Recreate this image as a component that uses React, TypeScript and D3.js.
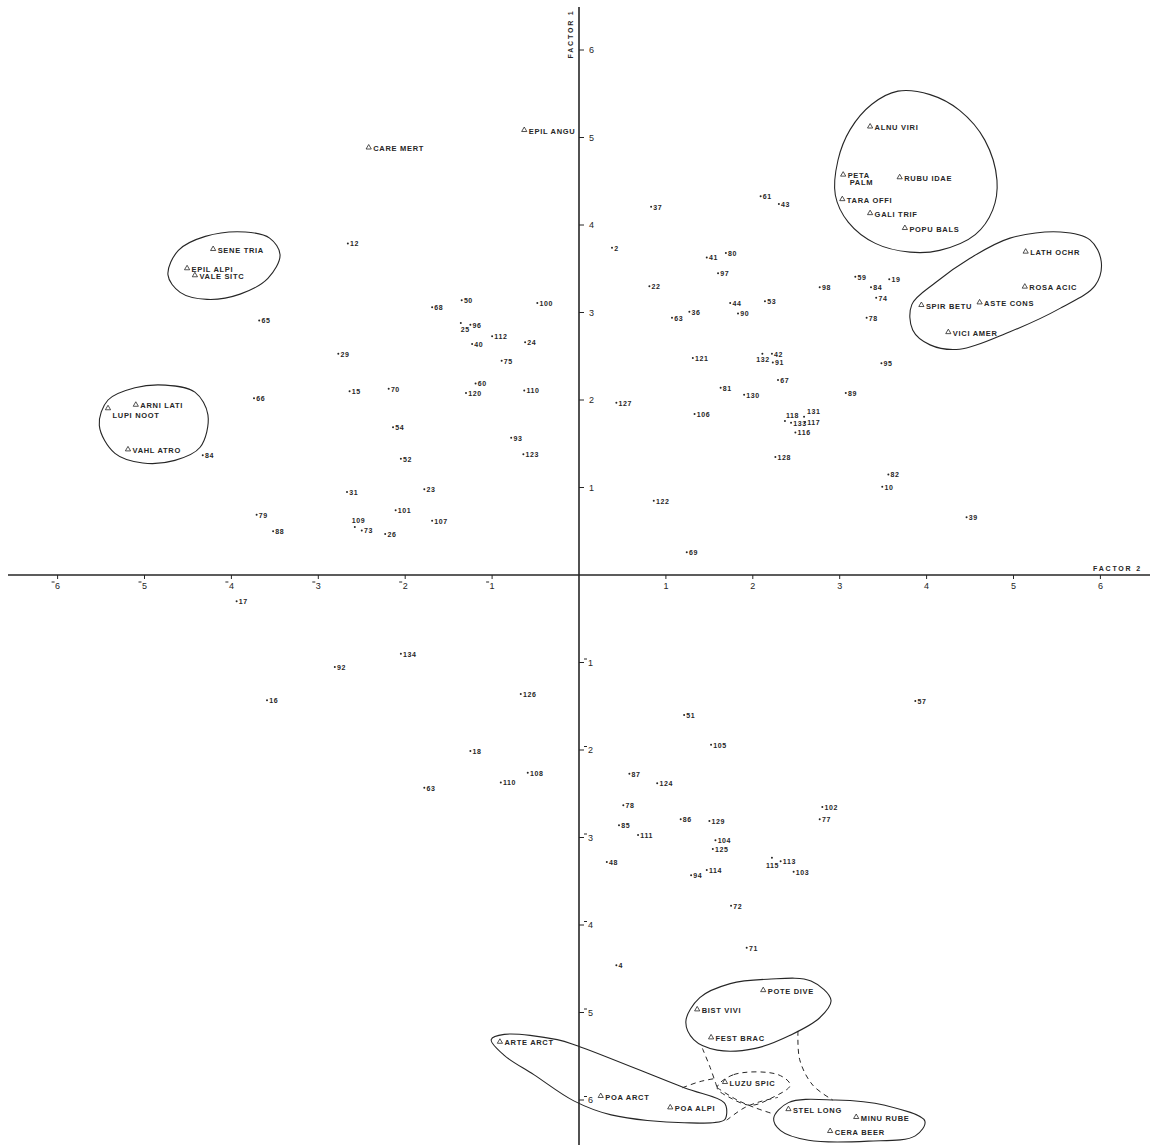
import React from 'react';
import * as d3 from 'd3';

// ---------- DATA ----------
const sampleIds = [
  '12','65','29','15','66','84','31','79','88','109','73','26','70','54','52','23','101','107','68','50','100','25','96','112','40','24','75','60','120','110','93','123',
  '127','122','69','121','106','81','130','63','36','44','90','22','37','2','41','80','97','61','43','53','98','59','19','84','74','78','42','132','91','67','89','95','118','131','133','117','116','128','82','10','39',
  '17','92','16','134','126','18','108','110','63','51','105','87','124','78','86','129','85','111','104','125','48','94','114','72','71','4','115','113','103','102','77','57'
];
const sampleF2 = [
  -2.66,-3.68,-2.77,-2.64,-3.74,-4.33,-2.67,-3.71,-3.52,-2.58,-2.50,-2.23,-2.19,-2.14,-2.05,-1.78,-2.11,-1.69,-1.69,-1.35,-0.48,-1.36,-1.25,-1.00,-1.23,-0.62,-0.89,-1.19,-1.30,-0.63,-0.78,-0.64,
  0.43,0.86,1.24,1.31,1.33,1.63,1.90,1.07,1.27,1.74,1.83,0.81,0.83,0.38,1.47,1.69,1.60,2.09,2.30,2.14,2.77,3.18,3.57,3.36,3.42,3.31,2.22,2.11,2.23,2.29,3.07,3.48,2.37,2.59,2.44,2.60,2.49,2.26,3.56,3.49,4.46,
  -3.94,-2.81,-3.59,-2.05,-0.67,-1.25,-0.59,-0.90,-1.78,1.21,1.52,0.58,0.90,0.51,1.17,1.50,0.46,0.68,1.57,1.54,0.32,1.29,1.47,1.75,1.93,0.43,2.22,2.32,2.47,2.80,2.77,3.87
];
const sampleF1 = [
  3.79,2.91,2.53,2.10,2.02,1.37,0.95,0.69,0.50,0.55,0.51,0.47,2.13,1.69,1.33,0.98,0.74,0.62,3.06,3.14,3.11,2.88,2.86,2.73,2.64,2.66,2.45,2.19,2.08,2.11,1.57,1.38,
  1.97,0.85,0.26,2.48,1.84,2.14,2.06,2.94,3.01,3.11,2.99,3.30,4.21,3.74,3.63,3.68,3.45,4.33,4.24,3.13,3.29,3.41,3.38,3.29,3.17,2.94,2.53,2.53,2.43,2.23,2.08,2.42,1.76,1.81,1.74,1.75,1.63,1.35,1.15,1.01,0.66,
  -0.30,-1.05,-1.43,-0.90,-1.36,-2.01,-2.26,-2.37,-2.43,-1.60,-1.94,-2.27,-2.38,-2.63,-2.79,-2.81,-2.86,-2.97,-3.03,-3.13,-3.28,-3.43,-3.37,-3.78,-4.26,-4.46,-3.23,-3.27,-3.39,-2.65,-2.79,-1.44
];

const speciesNames = [
  'CARE MERT','EPIL ANGU','SENE TRIA','EPIL ALPI','VALE SITC','ARNI LATI','LUPI NOOT','VAHL ATRO',
  'ALNU VIRI','PETA|PALM','RUBU IDAE','TARA OFFI','GALI TRIF','POPU BALS',
  'LATH OCHR','ROSA ACIC','SPIR BETU','ASTE CONS','VICI AMER',
  'ARTE ARCT','POA ARCT','POA ALPI','BIST VIVI','FEST BRAC','POTE DIVE','LUZU SPIC','STEL LONG','MINU RUBE','CERA BEER'
];
const speciesF2 = [
  -2.42,-0.63,-4.21,-4.51,-4.42,-5.10,-5.42,-5.19,
  3.35,3.04,3.69,3.03,3.35,3.75,
  5.14,5.13,3.94,4.61,4.25,
  -0.91,0.25,1.05,1.36,1.52,2.12,1.68,2.41,3.19,2.89
];
const speciesF1 = [
  4.89,5.09,3.73,3.51,3.43,1.95,1.91,1.44,
  5.13,4.58,4.55,4.30,4.14,3.97,
  3.70,3.30,3.09,3.12,2.78,
  -5.33,-5.95,-6.08,-4.96,-5.28,-4.74,-5.79,-6.10,-6.19,-6.35
];

const xTicks = [-6,-5,-4,-3,-2,-1,1,2,3,4,5,6];
const yTicks = [-6,-5,-4,-3,-2,-1,1,2,3,4,5,6];

type P = [number, number];
// hand-drawn group outlines (factor 2, factor 1)
const outlineSene: P[] = [[-4.73,3.43],[-4.61,3.71],[-4.30,3.87],[-3.84,3.92],[-3.56,3.85],[-3.44,3.66],[-3.58,3.39],[-3.90,3.21],[-4.28,3.15],[-4.59,3.23]];
const outlineArni: P[] = [[-5.52,1.71],[-5.42,2.00],[-5.11,2.14],[-4.76,2.17],[-4.42,2.09],[-4.27,1.83],[-4.36,1.46],[-4.65,1.31],[-5.02,1.28],[-5.34,1.39]];
const outlineAlnu: P[] = [[3.67,5.53],[4.04,5.49],[4.38,5.31],[4.67,4.97],[4.81,4.51],[4.76,4.17],[4.56,3.89],[4.15,3.71],[3.81,3.69],[3.41,3.79],[3.10,4.03],[2.95,4.34],[2.98,4.74],[3.12,5.09],[3.37,5.38]];
const outlineLath: P[] = [[3.83,3.09],[4.10,3.34],[4.50,3.62],[4.96,3.85],[5.54,3.92],[5.88,3.83],[6.01,3.58],[5.94,3.31],[5.54,3.05],[4.96,2.78],[4.38,2.58],[4.04,2.63],[3.84,2.80]];
const outlineArte: P[] = [[-1.01,-5.31],[-0.86,-5.25],[-0.25,-5.31],[-0.02,-5.38],[1.21,-5.86],[1.67,-6.03],[1.70,-6.15],[1.67,-6.23],[1.21,-6.26],[0.37,-6.17],[-0.06,-6.01],[-0.52,-5.71],[-0.86,-5.49]];
const outlineBist: P[] = [[1.23,-5.10],[1.39,-4.83],[1.74,-4.67],[2.17,-4.62],[2.67,-4.64],[2.90,-4.86],[2.77,-5.06],[2.43,-5.26],[2.03,-5.41],[1.59,-5.43],[1.32,-5.31]];
const outlineStel: P[] = [[2.24,-6.21],[2.41,-6.03],[2.95,-6.00],[3.52,-6.06],[3.98,-6.24],[3.87,-6.41],[3.33,-6.47],[2.64,-6.46],[2.32,-6.35]];
const outlineLuzu: P[] = [[1.59,-5.86],[1.78,-5.71],[2.29,-5.71],[2.43,-5.83],[2.21,-5.98],[1.98,-6.06],[1.75,-5.98]];
const dashedLinks: P[][] = [
  [[1.42,-5.41],[1.51,-5.63],[1.59,-5.86]],
  [[1.59,-5.86],[1.82,-6.00],[2.03,-6.09],[2.24,-6.16]],
  [[1.19,-5.86],[1.39,-5.79],[1.59,-5.75]],
  [[1.70,-6.23],[1.90,-6.09],[2.08,-6.02],[2.29,-5.97]],
  [[2.52,-5.21],[2.54,-5.54],[2.69,-5.83],[2.92,-6.00]]
];

// ---------- LAYOUT ----------
const W = 1152, H = 1145;
const x = d3.scaleLinear().domain([-6, 6]).range([57.6, 1100.4]);
const y = d3.scaleLinear().domain([-6, 6]).range([1100, 50]);
const INK = '#262626';
const FONT = '"Liberation Sans", Arial, sans-serif';

const closedLine = d3.line<P>().x(d => x(d[0])).y(d => y(d[1])).curve(d3.curveCatmullRomClosed.alpha(0.5));
const openLine = d3.line<P>().x(d => x(d[0])).y(d => y(d[1])).curve(d3.curveCatmullRom.alpha(0.5));

const labelPlace: Record<string, [number, number, string]> = {
  '109': [-3, -4, 'start'],
  '25': [0, 9, 'start'],
  '132': [-6, 8, 'start'],
  '118': [1, -3, 'start'],
  '131': [3, -3, 'start'],
  '115': [-6, 10, 'start'],
};

export default function App() {
  const x0 = x(0), y0 = y(0);
  return (
    <>
      <style>{`body{margin:0;background:#fff} svg text{-webkit-font-smoothing:antialiased}`}</style>
      <svg width={W} height={H} viewBox={`0 0 ${W} ${H}`} style={{ display: 'block', background: '#fff' }}>
        {/* outlines */}
        <g fill="none" stroke={INK} strokeWidth={1.1}>
          {[outlineSene, outlineArni, outlineAlnu, outlineLath, outlineArte, outlineBist, outlineStel].map((o, i) => (
            <path key={i} d={closedLine(o) || ''} />
          ))}
        </g>
        <g fill="none" stroke={INK} strokeWidth={1} strokeDasharray="5,4">
          <path d={closedLine(outlineLuzu) || ''} />
          {dashedLinks.map((l, i) => <path key={i} d={openLine(l) || ''} />)}
        </g>

        {/* axes */}
        <g stroke={INK} strokeWidth={1.6}>
          <line x1={8} x2={1150} y1={y0} y2={y0} />
          <line x1={x0} x2={x0} y1={7} y2={H} />
        </g>
        <g stroke={INK} strokeWidth={1}>
          {xTicks.map(t => <line key={'xt' + t} x1={x(t)} x2={x(t)} y1={y0} y2={y0 + 4} />)}
          {yTicks.map(t => <line key={'yt' + t} x1={x0} x2={x0 + 5} y1={y(t)} y2={y(t)} />)}
          {xTicks.filter(t => t < 0).map(t => <line key={'xm' + t} x1={x(t) - 6} x2={x(t) - 3} y1={y0 + 7} y2={y0 + 7} />)}
          {yTicks.filter(t => t < 0).map(t => <line key={'ym' + t} x1={x0 + 5} x2={x0 + 8} y1={y(t) - 3.5} y2={y(t) - 3.5} />)}
        </g>
        <g fontFamily={FONT} fontSize={9} fill={INK}>
          {xTicks.map(t => (
            <text key={'xl' + t} x={x(t)} y={y0 + 14} textAnchor="middle">{Math.abs(t)}</text>
          ))}
          {yTicks.map(t => (
            <text key={'yl' + t} x={x0 + (t < 0 ? 9 : 10)} y={y(t) + 3.3}>{Math.abs(t)}</text>
          ))}
        </g>
        <g fontFamily={FONT} fontSize={7} fontWeight="bold" fill={INK} letterSpacing={1.8}>
          <text transform={`translate(${x0 - 6},34) rotate(-90)`} textAnchor="middle">FACTOR 1</text>
          <text x={1093} y={y0 - 4}>FACTOR 2</text>
        </g>

        {/* samples */}
        <g fontFamily={FONT} fontSize={7} fontWeight="bold" fill={INK} letterSpacing={0.6}>
          {sampleIds.map((id, i) => {
            const px = x(sampleF2[i]), py = y(sampleF1[i]);
            const pl = labelPlace[id] || [2.2, 3, 'start'];
            return (
              <g key={'s' + i}>
                <circle cx={px} cy={py} r={1} fill={INK} />
                <text x={px + pl[0]} y={py + pl[1]} textAnchor={pl[2] as any}>{id}</text>
              </g>
            );
          })}
        </g>

        {/* species */}
        <g fontFamily={FONT} fontSize={7.5} fontWeight="bold" fill={INK} letterSpacing={0.7}>
          {speciesNames.map((name, i) => {
            const px = x(speciesF2[i]), py = y(speciesF1[i]);
            const lines = name.split('|');
            const low = name === 'LUPI NOOT' ? 6 : 0;
            return (
              <g key={'sp' + i}>
                <path d={`M${px},${py - 2.6}L${px + 2.6},${py + 1.9}L${px - 2.6},${py + 1.9}Z`} fill="none" stroke={INK} strokeWidth={0.8} />
                {lines.map((ln, j) => (
                  <text key={j} x={px + 4.5 + j * 2} y={py + 4 + low + j * 7}>{ln}</text>
                ))}
              </g>
            );
          })}
        </g>
      </svg>
    </>
  );
}
